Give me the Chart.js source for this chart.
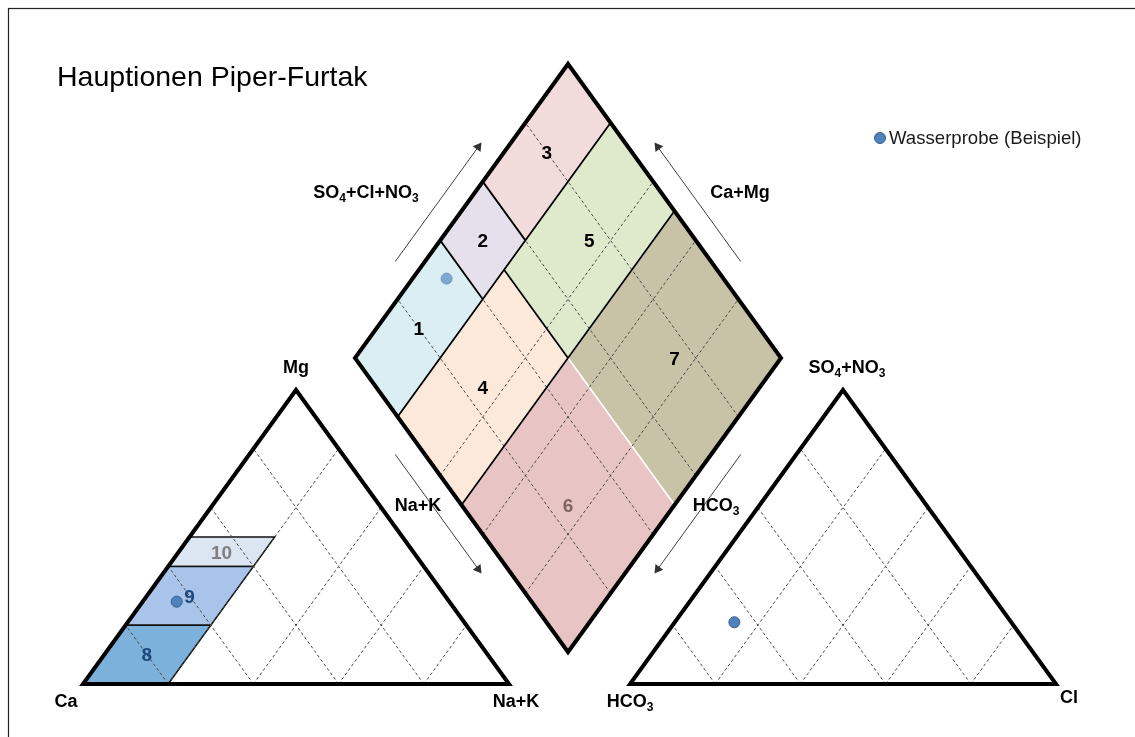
<!DOCTYPE html>
<html>
<head>
<meta charset="utf-8">
<script src="https://cdn.jsdelivr.net/npm/chart.js@4.4.0/dist/chart.umd.min.js"></script>
<style>
  html, body { margin: 0; padding: 0; background: #fff; overflow: hidden; }
</style>
</head>
<body>
<canvas id="piper" width="1135" height="737"></canvas>
<script>
// --- data (meq-%) ---
const title = "Hauptionen Piper-Furtak";
const sampleName = "Wasserprobe (Beispiel)";
const cationNames = ["Ca", "Mg", "Na+K"];
const anionNames = ["HCO3", "SO4+NO3", "Cl"];
const sampleCations = [64, 28, 8];   // Ca, Mg, Na+K
const sampleAnions = [65, 21, 14];   // HCO3, SO4+NO3, Cl
const gridSteps = [20, 40, 60, 80];

// Furtak fields in the diamond: SO4+Cl+NO3 range and Ca+Mg range
const fieldNames = ["1", "2", "3", "4", "5", "6", "7"];
const fieldAnionRange = [[0, 40], [40, 60], [60, 100], [0, 50], [50, 100], [0, 50], [50, 100]];
const fieldCationRange = [[80, 100], [80, 100], [80, 100], [50, 80], [50, 80], [0, 50], [0, 50]];
const fieldColors = ["#daeef3", "#e5e0ec", "#f2dcdb", "#fde9d9", "#dfe9cb", "#e8c4c4", "#c8c2a7"];
const fieldTextColors = ["#000", "#000", "#000", "#000", "#000", "#806565", "#000"];

// fields in the cation triangle: Mg range and Na+K range
const cationFieldNames = ["8", "9", "10"];
const cationFieldMg = [[0, 20], [20, 40], [40, 50]];
const cationFieldNaK = [[0, 20], [0, 20], [0, 20]];
const cationFieldColors = ["#7cb1dc", "#a9c4ea", "#dce6f2"];
const cationFieldTextColors = ["#1f497d", "#1f497d", "#7f7f7f"];

// --- geometry ---
const TRI_W = 426, TRI_H = 294, BASE_Y = 684;
const LEFT_X = 83, RIGHT_X = 630;
const D_BOTTOM = { x: 568, y: 652 };
const GAP = { x: NaN, y: NaN };

function cationXY(mg, nak) {
  return { x: LEFT_X + TRI_W * (nak + mg / 2) / 100, y: BASE_Y - TRI_H * mg / 100 };
}
function anionXY(so4, cl) {
  return { x: RIGHT_X + TRI_W * (cl + so4 / 2) / 100, y: BASE_Y - TRI_H * so4 / 100 };
}
function diamondXY(an, cat) {
  return { x: D_BOTTOM.x + (TRI_W / 2) * (an - cat) / 100, y: D_BOTTOM.y - TRI_H * (an + cat) / 100 };
}

function closed(pts) { return pts.concat([pts[0], pts[1]]); }

// grid lines
function triGrid(fn) {
  const pts = [];
  gridSteps.forEach(s => {
    pts.push(fn(0, s), fn(100 - s, s), GAP);
    pts.push(fn(0, 100 - s), fn(100 - s, 0), GAP);
  });
  return pts;
}
const diamondGrid = [];
gridSteps.forEach(s => {
  diamondGrid.push(diamondXY(s, 0), diamondXY(s, 100), GAP);
  diamondGrid.push(diamondXY(0, s), diamondXY(100, s), GAP);
});

const fieldLines = [
  diamondXY(0, 80), diamondXY(100, 80), GAP,
  diamondXY(40, 80), diamondXY(40, 100), GAP,
  diamondXY(60, 80), diamondXY(60, 100), GAP,
  diamondXY(50, 50), diamondXY(50, 80), GAP,
  diamondXY(0, 50), diamondXY(100, 50)
];

const datasets = [];

fieldNames.forEach((name, i) => {
  const [a0, a1] = fieldAnionRange[i], [c0, c1] = fieldCationRange[i];
  datasets.push({
    type: "line", label: "Feld " + name, order: 20,
    data: [diamondXY(a0, c0), diamondXY(a1, c0), diamondXY(a1, c1), diamondXY(a0, c1), diamondXY(a0, c0)],
    backgroundColor: fieldColors[i], borderColor: "#ffffff", borderWidth: 1.5,
    fill: "shape", pointRadius: 0
  });
});
cationFieldNames.forEach((name, i) => {
  const [m0, m1] = cationFieldMg[i], [n0, n1] = cationFieldNaK[i];
  datasets.push({
    type: "line", label: "Feld " + name, order: 20,
    data: [cationXY(m0, n0), cationXY(m0, n1), cationXY(m1, n1), cationXY(m1, n0), cationXY(m0, n0)],
    backgroundColor: cationFieldColors[i], borderColor: "#111", borderWidth: 1.5,
    fill: "shape", pointRadius: 0
  });
});

[triGrid(cationXY), triGrid(anionXY), diamondGrid].forEach(pts => {
  datasets.push({
    type: "line", order: 15, data: pts, borderColor: "#4a4a4a", borderWidth: 1,
    borderDash: [3, 2.5], pointRadius: 0, fill: false, spanGaps: false
  });
});

datasets.push({
  type: "line", order: 12, data: fieldLines, borderColor: "#000", borderWidth: 1.8,
  pointRadius: 0, fill: false, spanGaps: false
});

const outlines = [
  [cationXY(0, 0), cationXY(0, 100), cationXY(100, 0)],
  [anionXY(0, 0), anionXY(0, 100), anionXY(100, 0)],
  [diamondXY(0, 0), diamondXY(100, 0), diamondXY(100, 100), diamondXY(0, 100)]
];
outlines.forEach(pts => {
  datasets.push({
    type: "line", order: 10, data: closed(pts), borderColor: "#000", borderWidth: 4,
    borderJoinStyle: "miter", pointRadius: 0, fill: false
  });
});

// arrows along the diamond edges
const dCenter = diamondXY(50, 50);
function edgeArrow(from, to, t0, t1, off) {
  const dx = to.x - from.x, dy = to.y - from.y, len = Math.hypot(dx, dy);
  const ux = dx / len, uy = dy / len;
  let nx = uy, ny = -ux;
  const mx = (from.x + to.x) / 2 - dCenter.x, my = (from.y + to.y) / 2 - dCenter.y;
  if (nx * mx + ny * my < 0) { nx = -nx; ny = -ny; }
  const p = t => ({ x: from.x + dx * t + nx * off, y: from.y + dy * t + ny * off });
  return { data: [p(t0), p(t1)], rot: Math.atan2(ux, -uy) * 180 / Math.PI };
}
const dL = diamondXY(0, 100), dT = diamondXY(100, 100), dR = diamondXY(100, 0), dB = diamondXY(0, 0);
[[dL, dT], [dR, dT], [dL, dB], [dR, dB]].forEach(([a, b]) => {
  const arr = edgeArrow(a, b, 0.28, 0.67, 24);
  datasets.push({
    type: "line", order: 5, data: arr.data, borderColor: "#404040", borderWidth: 1,
    pointRadius: [0, 5.5], pointStyle: "triangle", pointRotation: [0, arr.rot],
    pointBackgroundColor: "#333", pointBorderColor: "#333", pointBorderWidth: 0, fill: false
  });
});

// sample points
const samplePoints = [
  cationXY(sampleCations[1], sampleCations[2]),
  anionXY(sampleAnions[1], sampleAnions[2])
];
datasets.push({
  type: "scatter", label: sampleName, order: 1, data: samplePoints,
  backgroundColor: "#4f81bd", borderColor: "#385d8a", borderWidth: 1, pointRadius: 5.5
});
datasets.push({
  type: "scatter", label: sampleName, order: 1,
  data: [diamondXY(sampleAnions[1] + sampleAnions[2], sampleCations[0] + sampleCations[1])],
  backgroundColor: "#7fa7d1", borderColor: "#6f98c6", borderWidth: 1, pointRadius: 5.5
});

// --- text ---
const FONT = '"Liberation Sans", Arial, sans-serif';
// chemical label: digits become subscripts
function rich(ctx, str, x, y, size, color) {
  const parts = str.match(/[0-9]+|[^0-9]+/g);
  const fontOf = sub => "bold " + (sub ? Math.round(size * 0.68) : size) + "px " + FONT;
  let w = 0;
  parts.forEach(t => { ctx.font = fontOf(/\d/.test(t)); w += ctx.measureText(t).width; });
  let cx = x - w / 2;
  const base = y + size * 0.36;
  ctx.fillStyle = color || "#000";
  parts.forEach(t => {
    const sub = /\d/.test(t);
    ctx.font = fontOf(sub);
    ctx.fillText(t, cx, sub ? base + size * 0.22 : base);
    cx += ctx.measureText(t).width;
  });
}
function plain(ctx, str, x, y, size, color) {
  ctx.font = "bold " + size + "px " + FONT;
  ctx.fillStyle = color;
  ctx.textAlign = "center";
  ctx.fillText(str, x, y + size * 0.36);
  ctx.textAlign = "left";
}
function centerOf(pts) {
  return { x: pts.reduce((s, p) => s + p.x, 0) / pts.length, y: pts.reduce((s, p) => s + p.y, 0) / pts.length };
}

const textPlugin = {
  id: "piperText",
  beforeDraw(chart) {
    const ctx = chart.ctx;
    ctx.save();
    ctx.fillStyle = "#fff";
    ctx.fillRect(0, 0, chart.width, chart.height);
    ctx.strokeStyle = "#222";
    ctx.lineWidth = 1.2;
    ctx.strokeRect(8.5, 8.5, chart.width + 20, chart.height + 20);
    ctx.restore();
  },
  afterDatasetsDraw(chart) {
    const ctx = chart.ctx;
    ctx.save();
    ctx.textBaseline = "alphabetic";
    ctx.textAlign = "left";

    ctx.fillStyle = "#000";
    ctx.font = "28.5px " + FONT;
    ctx.fillText(title, 57, 86);

    // legend
    ctx.beginPath();
    ctx.arc(880, 138, 5.5, 0, Math.PI * 2);
    ctx.fillStyle = "#4f81bd";
    ctx.fill();
    ctx.strokeStyle = "#385d8a";
    ctx.lineWidth = 1;
    ctx.stroke();
    ctx.fillStyle = "#1a1a1a";
    ctx.font = "18.6px " + FONT;
    ctx.fillText(sampleName, 889, 144);

    // corner labels
    const s = 18;
    const ca = cationXY(0, 0), mg = cationXY(100, 0), nak = cationXY(0, 100);
    rich(ctx, cationNames[0], ca.x - 17, ca.y + 17, s);
    rich(ctx, cationNames[1], mg.x, mg.y - 23, s);
    rich(ctx, cationNames[2], nak.x + 7, nak.y + 17, s);
    const hco3 = anionXY(0, 0), so4 = anionXY(100, 0), cl = anionXY(0, 100);
    rich(ctx, anionNames[0], hco3.x, hco3.y + 17, s);
    rich(ctx, anionNames[1], so4.x + 4, so4.y - 23, s);
    rich(ctx, anionNames[2], cl.x + 13, cl.y + 13, s);

    // diamond axis labels
    rich(ctx, "SO4+Cl+NO3", 366, 192, s);
    rich(ctx, "Ca+Mg", 740, 192, s);
    rich(ctx, cationNames[2], 418, 505, s);
    rich(ctx, anionNames[0], 716, 505, s);

    // field numbers
    fieldNames.forEach((name, i) => {
      const [a0, a1] = fieldAnionRange[i], [c0, c1] = fieldCationRange[i];
      const c = centerOf([diamondXY(a0, c0), diamondXY(a1, c1)]);
      plain(ctx, name, c.x, c.y, 19, fieldTextColors[i]);
    });
    cationFieldNames.forEach((name, i) => {
      const [m0, m1] = cationFieldMg[i], [n0, n1] = cationFieldNaK[i];
      const c = centerOf([cationXY(m0, n0), cationXY(m1, n1), cationXY(m0, n1), cationXY(m1, n0)]);
      plain(ctx, name, c.x, c.y, 19, cationFieldTextColors[i]);
    });
    ctx.restore();
  }
};

new Chart(document.getElementById("piper").getContext("2d"), {
  type: "scatter",
  data: { datasets },
  options: {
    responsive: false,
    animation: false,
    layout: { padding: 0, autoPadding: false },
    elements: { line: { tension: 0 } },
    scales: {
      x: { type: "linear", display: false, min: 0, max: 1135 },
      y: { type: "linear", display: false, min: 0, max: 737, reverse: true }
    },
    plugins: { legend: { display: false }, tooltip: { enabled: false } }
  },
  plugins: [textPlugin]
});
</script>
</body>
</html>
